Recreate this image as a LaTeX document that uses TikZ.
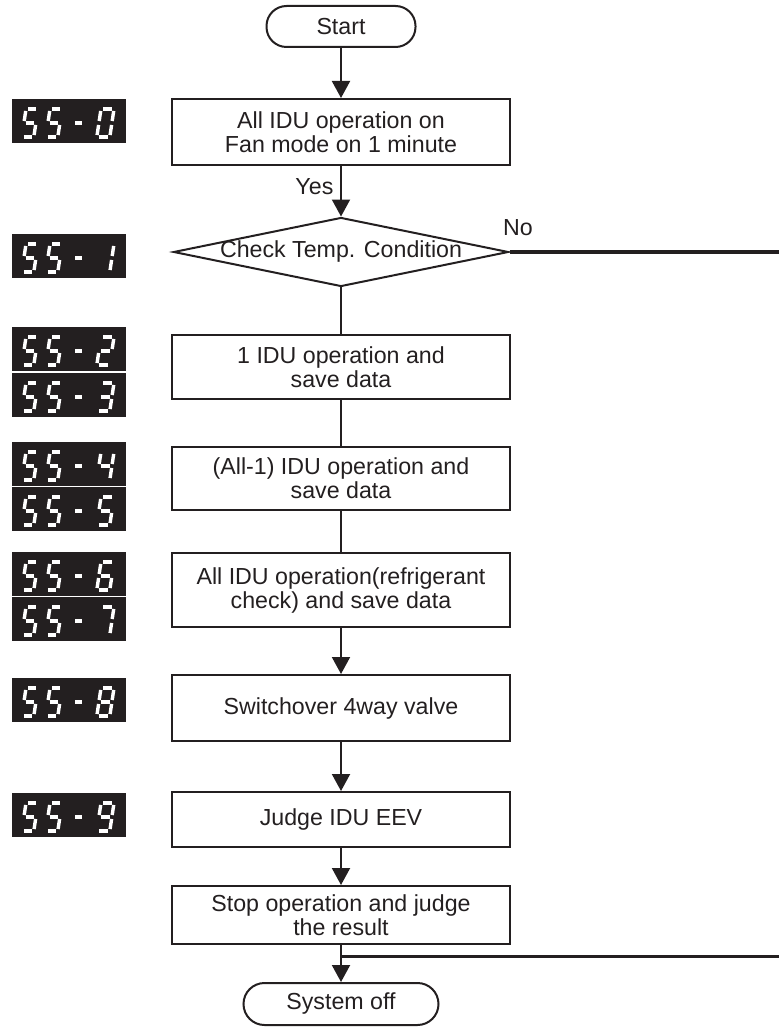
\documentclass[tikz,border=0pt]{standalone}
\usepackage{fontspec}
\setmainfont{Liberation Sans}
\usepackage{tikz}
\usetikzlibrary{shapes.geometric, arrows.meta}
\definecolor{ink}{HTML}{231F20}

\tikzset{
  flowbox/.style={draw=ink, line width=1pt, text=ink, align=center, inner sep=0pt, minimum width=169pt},
  termbox/.style={draw=ink, line width=1pt, text=ink, align=center, inner sep=0pt},
  decision/.style={draw=ink, line width=1pt, text=ink, shape=diamond, inner sep=0pt, minimum width=167.5pt, minimum height=34.5pt},
  flowline/.style={draw=ink, line width=1pt},
  flowarrow/.style={flowline, -{Triangle[width=9pt,length=8.5pt]}},
  noline/.style={draw=ink, line width=1.5pt},
  segbg/.style={fill=ink},
  segline/.style={draw=white, line width=1.7pt, shorten <=1pt, shorten >=1pt},
}

% segments of a digit: xa/ya/xb/yb, x in widths, y in half heights
\def\segzero{0/0/1/0, 1/0/1/1, 1/1/1/2, 0/2/1/2, 0/1/0/2, 0/0/0/1}
\def\segone{1/0/1/1, 1/1/1/2}
\def\segtwo{0/0/1/0, 1/0/1/1, 0/1/1/1, 0/1/0/2, 0/2/1/2}
\def\segthree{0/0/1/0, 1/0/1/1, 0/1/1/1, 1/1/1/2, 0/2/1/2}
\def\segfour{0/0/0/1, 0/1/1/1, 1/0/1/1, 1/1/1/2}
\def\segfive{0/0/1/0, 0/0/0/1, 0/1/1/1, 1/1/1/2, 0/2/1/2}
\def\segsix{0/0/1/0, 0/0/0/1, 0/1/1/1, 0/1/0/2, 1/1/1/2, 0/2/1/2}
\def\segseven{0/0/1/0, 1/0/1/1, 1/1/1/2}
\def\segeight{0/0/1/0, 1/0/1/1, 1/1/1/2, 0/2/1/2, 0/1/0/2, 0/0/0/1, 0/1/1/1}
\def\segnine{0/0/1/0, 0/0/0/1, 1/0/1/1, 0/1/1/1, 1/1/1/2, 0/2/1/2}

\newcommand{\segdigit}[4]{%
  \begin{scope}[shift={(#1,#2)}, xslant=0.15]
    \foreach \xa/\ya/\xb/\yb in #4
      \draw[segline] (\xa*#3,\ya*14) -- (\xb*#3,\yb*14);
  \end{scope}}

\newcommand{\segdisplay}[2]{%
  \fill[segbg] (12,#1) rectangle ++(114,44);
  \segdigit{26}{#1+10}{12}{\segfive}
  \segdigit{50}{#1+10}{12}{\segfive}
  \draw[segline] (73,#1+24) -- (84,#1+24);
  \segdigit{101}{#1+10}{13}{#2}}

\begin{document}
\begin{tikzpicture}[x=0.5pt, y=-0.5pt, font=\fontsize{11.6pt}{12pt}\selectfont]
    \useasboundingbox (0,0) rectangle (779,1027);
    %
    \node[termbox, minimum width=74.5pt, minimum height=20.5pt, rounded corners=10pt] (start) at (341,26.5) {Start};
    \node[flowbox, minimum height=33pt] (idlefan) at (341,132) {All IDU operation on\\ Fan mode on 1 minute};
    \node[decision] (tempcheck) at (341,252) {\makebox[0pt]{Check Temp. Condition}};
    \node[flowbox, minimum height=32pt] (oneidu) at (341,367) {1 IDU operation and\\save data};
    \node[flowbox, minimum height=31.5pt] (allminus) at (341,478.5) {(All-1) IDU operation and\\save data};
    \node[flowbox, minimum height=37pt] (allidu) at (341,590) {All IDU operation(refrigerant\\ check) and save data};
    \node[flowbox, minimum height=33pt] (valve) at (341,708) {Switchover 4way valve};
    \node[flowbox, minimum height=27.5pt] (judge) at (341,819.5) {Judge IDU EEV};
    \node[flowbox, minimum height=29pt] (stopjudge) at (341,915) {Stop operation and judge\\ the result};
    \node[termbox, minimum width=97.5pt, minimum height=21pt, rounded corners=10.5pt] (sysoff) at (341,1004) {System off};
    %
    \draw[flowarrow] (start) -- (idlefan);
    \draw[flowarrow] (idlefan) -- node[left, pos=0.4, text=ink] {Yes} (tempcheck);
    \draw[flowline] (tempcheck) -- (oneidu);
    \draw[flowline] (oneidu) -- (allminus);
    \draw[flowline] (allminus) -- (allidu);
    \draw[flowarrow] (allidu) -- (valve);
    \draw[flowarrow] (valve) -- (judge);
    \draw[flowarrow] (judge) -- (stopjudge);
    \draw[flowarrow] (stopjudge) -- (sysoff);
    %
    \coordinate (noend) at (779,252);
    \coordinate (backend) at (779,956);
    \coordinate (junction) at (341,956);
    \draw[noline] (tempcheck.east) -- (noend);
    \node[text=ink] (nolabel) at (518,228) {No};
    \draw[noline] (backend) -- (junction);
    %
    \segdisplay{99}{\segzero}
    \segdisplay{234}{\segone}
    \segdisplay{327}{\segtwo}
    \segdisplay{373}{\segthree}
    \segdisplay{442}{\segfour}
    \segdisplay{487}{\segfive}
    \segdisplay{552}{\segsix}
    \segdisplay{597}{\segseven}
    \segdisplay{678}{\segeight}
    \segdisplay{793}{\segnine}
\end{tikzpicture}
\end{document}
